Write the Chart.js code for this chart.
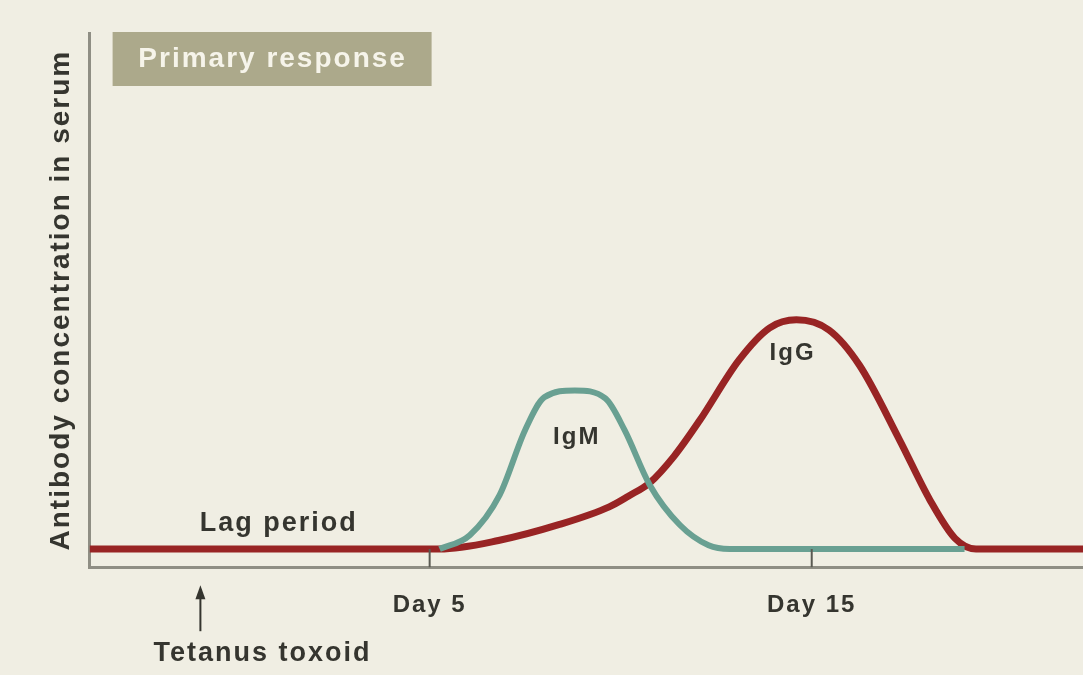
<!DOCTYPE html>
<html>
<head>
<meta charset="utf-8">
<script src="https://cdn.jsdelivr.net/npm/chart.js@4.4.0/dist/chart.umd.min.js"></script>
<style>
  html, body { margin: 0; padding: 0; background: #f0eee3; }
  canvas { display: block; }
</style>
</head>
<body>
<canvas id="myChart" width="1083" height="675"></canvas>
<script>
// Days after immunisation (x) and antibody level in arbitrary units (y)
const iggDays   = [-3.9, 5.26, 6.8, 8.4, 9.7, 10.2, 10.76, 11.4, 12.07, 13.1, 13.9, 14.6, 15.45, 16.25, 17.3, 18.1, 18.75, 19.3, 22.1];
const iggLevels = [3.4, 3.4, 5.0, 8.0, 11.3, 13.3, 15.8, 20.8, 27.5, 38.8, 44.8, 46.3, 44.4, 37.8, 23.8, 12.5, 5.4, 3.4, 3.4];

const igmDays   = [5.26, 6.05, 6.83, 7.5, 8.0, 8.8, 9.6, 10.1, 10.76, 11.55, 12.3, 12.85, 19.0];
const igmLevels = [3.4, 6.0, 13.5, 25.7, 31.8, 33.1, 31.6, 25.7, 15.4, 7.9, 4.1, 3.4, 3.4];

const tickDays   = [5, 15];
const tickLabels = ['Day 5', 'Day 15'];

const injectionDay = -1;

const FONT = "'Liberation Sans', Arial, sans-serif";
const TEXT = '#35352f';

function toPoints(xs, ys) {
    return xs.map((x, i) => ({ x: x, y: ys[i] }));
}

// Background, annotation texts, inside tick marks and the injection arrow
const decorations = {
    id: 'decorations',
    beforeDraw(chart) {
        const c = chart.ctx;
        c.save();
        c.fillStyle = '#f0eee3';
        c.fillRect(0, 0, chart.width, chart.height);
        c.restore();
        c.letterSpacing = '2px';
    },
    afterDatasetsDraw(chart) {
        const c = chart.ctx;
        const xs = chart.scales.x;
        const ys = chart.scales.y;
        const area = chart.chartArea;
        c.save();
        c.letterSpacing = '2px';

        // small tick marks pointing into the plot
        c.strokeStyle = '#5a5a52';
        c.lineWidth = 2;
        tickDays.forEach(d => {
            const px = xs.getPixelForValue(d);
            c.beginPath();
            c.moveTo(px, area.bottom);
            c.lineTo(px, ys.getPixelForValue(3.4));
            c.stroke();
        });

        // curve labels
        c.fillStyle = TEXT;
        c.textAlign = 'center';
        c.textBaseline = 'middle';
        c.font = 'bold 27px ' + FONT;
        c.fillText('Lag period', xs.getPixelForValue(1.05), ys.getPixelForValue(8.2));
        c.font = 'bold 24px ' + FONT;
        c.fillText('IgM', xs.getPixelForValue(8.85), ys.getPixelForValue(24.3));
        c.fillText('IgG', xs.getPixelForValue(14.5), ys.getPixelForValue(40));

        // arrow for the injection
        const ax = xs.getPixelForValue(injectionDay);
        c.strokeStyle = TEXT;
        c.lineWidth = 2;
        c.beginPath();
        c.moveTo(ax, area.bottom + 22);
        c.lineTo(ax, area.bottom + 64);
        c.stroke();
        c.beginPath();
        c.moveTo(ax, area.bottom + 18);
        c.lineTo(ax - 5, area.bottom + 32);
        c.lineTo(ax + 5, area.bottom + 32);
        c.closePath();
        c.fill();
        c.font = 'bold 27px ' + FONT;
        c.fillText('Tetanus toxoid', ax + 62, area.bottom + 86);

        // title box
        c.fillStyle = '#aca98b';
        c.fillRect(area.left + 23, area.top - 1, 319, 54);
        c.fillStyle = '#f6f4ea';
        c.font = 'bold 28px ' + FONT;
        c.fillText('Primary response', area.left + 183, area.top + 26);
        c.restore();
    }
};

const ctx = document.getElementById('myChart').getContext('2d');

const myChart = new Chart(ctx, {
    type: 'line',
    data: {
        datasets: [{
            label: 'IgM',
            data: toPoints(igmDays, igmLevels),
            borderColor: '#69a092',
            borderWidth: 6,
            order: 0
        }, {
            label: 'IgG',
            data: toPoints(iggDays, iggLevels),
            borderColor: '#982424',
            borderWidth: 7,
            order: 1
        }]
    },
    options: {
        responsive: false,
        animation: false,
        layout: { padding: { left: 40, top: 33, right: 0, bottom: 31 } },
        elements: {
            point: { radius: 0 },
            line: { cubicInterpolationMode: 'monotone', fill: false, borderCapStyle: 'butt' }
        },
        plugins: {
            legend: { display: false },
            tooltip: { enabled: false }
        },
        scales: {
            x: {
                type: 'linear',
                min: -3.9,
                max: 22.1,
                afterBuildTicks: scale => { scale.ticks = tickDays.map(v => ({ value: v })); },
                ticks: {
                    padding: 24,
                    color: TEXT,
                    font: { family: FONT, size: 24, weight: 'bold' },
                    callback: v => tickLabels[tickDays.indexOf(v)]
                },
                grid: { display: false, drawTicks: false },
                border: { display: true, color: '#8f8e84', width: 3 }
            },
            y: {
                min: 0,
                max: 100,
                ticks: { display: false },
                grid: { display: false, drawTicks: false },
                border: { display: true, color: '#8f8e84', width: 3 },
                title: {
                    display: true,
                    text: 'Antibody concentration in serum',
                    color: TEXT,
                    font: { family: FONT, size: 28, weight: 'bold' },
                    padding: { top: 4, bottom: 12 }
                }
            }
        }
    },
    plugins: [decorations]
});
</script>
</body>
</html>
